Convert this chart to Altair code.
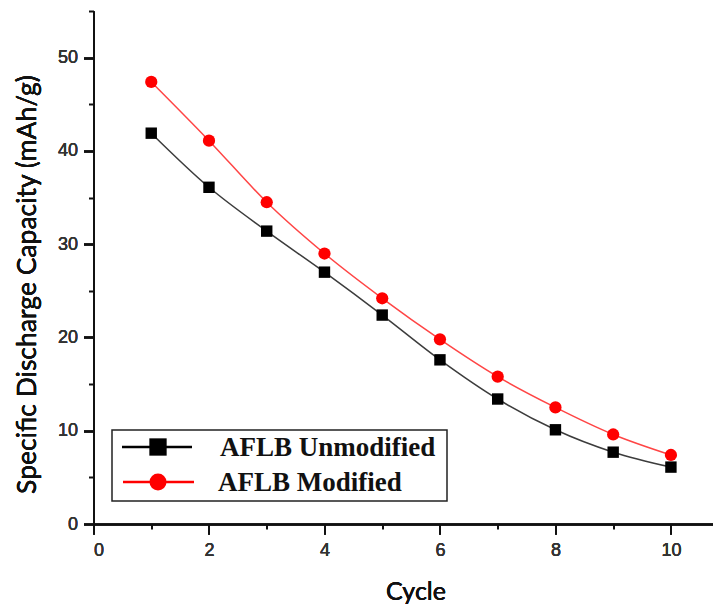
import altair as alt
import pandas as pd

cycles = [1, 2, 3, 4, 5, 6, 7, 8, 9, 10]
unmodified = [41.9, 36.1, 31.4, 27.0, 22.4, 17.6, 13.4, 10.1, 7.7, 6.1]
modified = [47.4, 41.1, 34.5, 29.0, 24.2, 19.8, 15.8, 12.5, 9.6, 7.4]
series_names = ["AFLB Unmodified", "AFLB Modified"]
x_major = [0, 2, 4, 6, 8, 10]
x_minor = [1, 3, 5, 7, 9]
y_major = [0, 10, 20, 30, 40, 50]
y_minor = [5, 15, 25, 35, 45, 55]

df = pd.DataFrame({
    "Cycle": cycles * 2,
    "Capacity": unmodified + modified,
    "Series": [series_names[0]] * len(cycles) + [series_names[1]] * len(cycles),
})

xs = alt.Scale(domain=[0, 10.72], nice=False, zero=False)
ys = alt.Scale(domain=[0, 55], nice=False)

x_axis = alt.Axis(values=x_major, title="Cycle", orient="bottom", tickSize=10,
                  labelPadding=7, titleX=322, titleY=75, titleAlign="center",
                  titleBaseline="alphabetic", titleFont="Lato", titleFontSize=25,
                  titleFontWeight=400, titleColor="#111")
y_axis = alt.Axis(values=y_major, title="Specific Discharge Capacity (mAh/g)", orient="left",
                  tickSize=10, labelPadding=6, titleX=-66, titleY=273, titleAngle=270,
                  titleAlign="center", titleBaseline="middle", titleFont="Lato",
                  titleFontSize=26.5, titleFontWeight=400, titleColor="#111")

base = alt.Chart(df)

def series_layer(name, line_color, point_color, shape, size):
    d = base.transform_filter(alt.datum.Series == name)
    line = d.mark_line(color=line_color, strokeWidth=1.5, interpolate="monotone").encode(
        x=alt.X("Cycle:Q", scale=xs, axis=x_axis),
        y=alt.Y("Capacity:Q", scale=ys, axis=y_axis),
    )
    pts = d.mark_point(shape=shape, filled=True, color=point_color, size=size, opacity=1).encode(
        x=alt.X("Cycle:Q", scale=xs, axis=x_axis),
        y=alt.Y("Capacity:Q", scale=ys, axis=y_axis),
    )
    return line, pts

l1, p1 = series_layer(series_names[0], "#3c3c3c", "#000000", "square", 130)
l2, p2 = series_layer(series_names[1], "#ff4545", "#ff0000", "circle", 150)

minor = base.mark_point(opacity=0).encode(
    x=alt.X("Cycle:Q", scale=xs,
            axis=alt.Axis(values=x_minor, labels=False, tickSize=5, domain=False,
                          title=None, orient="bottom", grid=False)),
    y=alt.Y("Capacity:Q", scale=ys,
            axis=alt.Axis(values=y_minor, labels=False, tickSize=5, domain=False,
                          title=None, orient="left", grid=False)),
)

one = alt.Data(values=[{"k": 1}])
leg_box = alt.Chart(one).mark_rect(fill="white", stroke="#222", strokeWidth=1.5).encode(
    x=alt.value(18.5), x2=alt.value(353.5), y=alt.value(419), y2=alt.value(490))
leg_l1 = alt.Chart(one).mark_rule(color="black", strokeWidth=2.5).encode(
    x=alt.value(28.5), x2=alt.value(98.5), y=alt.value(436))
leg_p1 = alt.Chart(one).mark_point(shape="square", filled=True, color="black", size=300, opacity=1).encode(
    x=alt.value(64.5), y=alt.value(436))
leg_t1 = alt.Chart(one).mark_text(font="Liberation Serif", fontWeight="bold", fontSize=27,
                                   align="left", baseline="middle", color="#111").encode(
    x=alt.value(126.5), y=alt.value(437), text=alt.value(series_names[0]))
leg_l2 = alt.Chart(one).mark_rule(color="#ff0000", strokeWidth=2.5).encode(
    x=alt.value(29.5), x2=alt.value(100.5), y=alt.value(471))
leg_p2 = alt.Chart(one).mark_point(shape="circle", filled=True, color="#ff0000", size=290, opacity=1).encode(
    x=alt.value(64.5), y=alt.value(471))
leg_t2 = alt.Chart(one).mark_text(font="Liberation Serif", fontWeight="bold", fontSize=27,
                                   align="left", baseline="middle", color="#111").encode(
    x=alt.value(124.5), y=alt.value(472), text=alt.value(series_names[1]))

chart = alt.layer(
    l1, l2, p1, p2, minor,
    leg_box, leg_l1, leg_p1, leg_t1, leg_l2, leg_p2, leg_t2,
).resolve_axis(x="independent", y="independent").properties(
    width=619, height=513,
    autosize=alt.AutoSizeParams(type="none"),
    padding={"left": 85.5, "top": 3, "right": 0, "bottom": 83},
    background="white",
).configure_view(stroke=None).configure_axis(
    domainColor="#111", domainWidth=2, tickColor="#111", tickWidth=2,
    labelFont="Liberation Sans", labelFontSize=18, labelFontWeight=400,
    labelColor="#333", grid=False,
)

chart.save("out.html", embed_options={"renderer": "svg", "actions": False})
